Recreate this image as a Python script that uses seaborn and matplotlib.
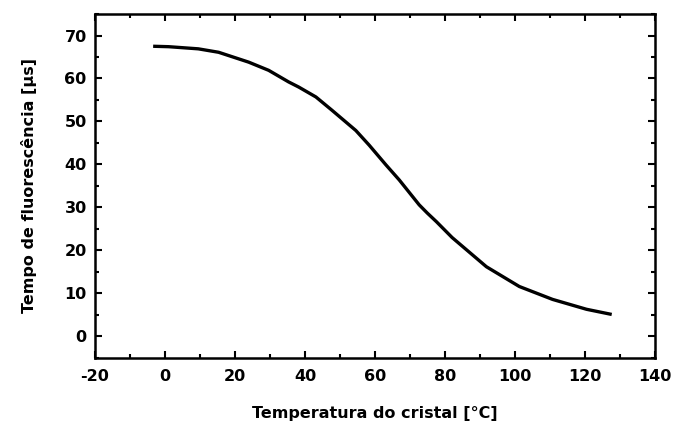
import numpy as np
import pandas as pd
import seaborn as sns
from matplotlib import pyplot as plt
from matplotlib.ticker import MultipleLocator

# values
temperatura = [-3.4, 1.0, 9.5, 15.3, 23.9, 29.6, 35.3, 38.2, 43.1, 47.7, 54.5, 58.3, 63.1,
               66.9, 72.6, 74.9, 77.5, 82.0, 91.8, 101.2, 110.7, 120.4, 127.6]
tempo = [67.5, 67.4, 66.9, 66.1, 63.8, 61.9, 59.2, 58.0, 55.7, 52.6, 47.9, 44.5, 39.9,
         36.4, 30.6, 28.7, 26.7, 23.0, 16.2, 11.6, 8.6, 6.3, 5.1]

df = pd.DataFrame({"T": temperatura, "tau": tempo})

sns.set_style("ticks")
plt.rcParams['font.family'] = ['DejaVu Sans']
plt.rcParams['font.weight'] = 'bold'
plt.rcParams['axes.unicode_minus'] = False
plt.rcParams['text.color'] = 'black'
plt.rcParams['xtick.color'] = 'black'
plt.rcParams['ytick.color'] = 'black'
plt.rcParams['axes.labelcolor'] = 'black'
plt.rcParams['axes.edgecolor'] = 'black'

fig = plt.figure(figsize=(6.74, 4.25), dpi=100)
ax = fig.add_axes([0.141, 0.158, 0.831, 0.809])

sns.lineplot(data=df, x="T", y="tau", color="black", linewidth=2.4, ax=ax, sort=False)
ax.lines[0].set_solid_joinstyle("round")
ax.lines[0].set_solid_capstyle("butt")

ax.set_xlim(-20, 140)
ax.set_ylim(-5, 75)
ax.xaxis.set_major_locator(MultipleLocator(20))
ax.xaxis.set_minor_locator(MultipleLocator(10))
ax.yaxis.set_minor_locator(MultipleLocator(5))
ax.set_yticks(range(0, 71, 10))

ax.tick_params(which="both", direction="in", top=True, right=True, width=1.5)
ax.tick_params(which="major", length=5, labelsize=11.5)
ax.tick_params(axis="x", which="major", pad=8)
ax.tick_params(axis="y", which="major", pad=6)
ax.tick_params(which="minor", length=3)
for s in ax.spines.values():
    s.set_linewidth(1.8)
    s.set_visible(True)

ax.set_xlabel("Temperatura do cristal [°C]", fontsize=11.5, fontweight="bold", labelpad=16)
ax.set_ylabel("Tempo de fluorescência [µs]", fontsize=11.5, fontweight="bold", labelpad=20)

plt.savefig("out.png", dpi=100)
